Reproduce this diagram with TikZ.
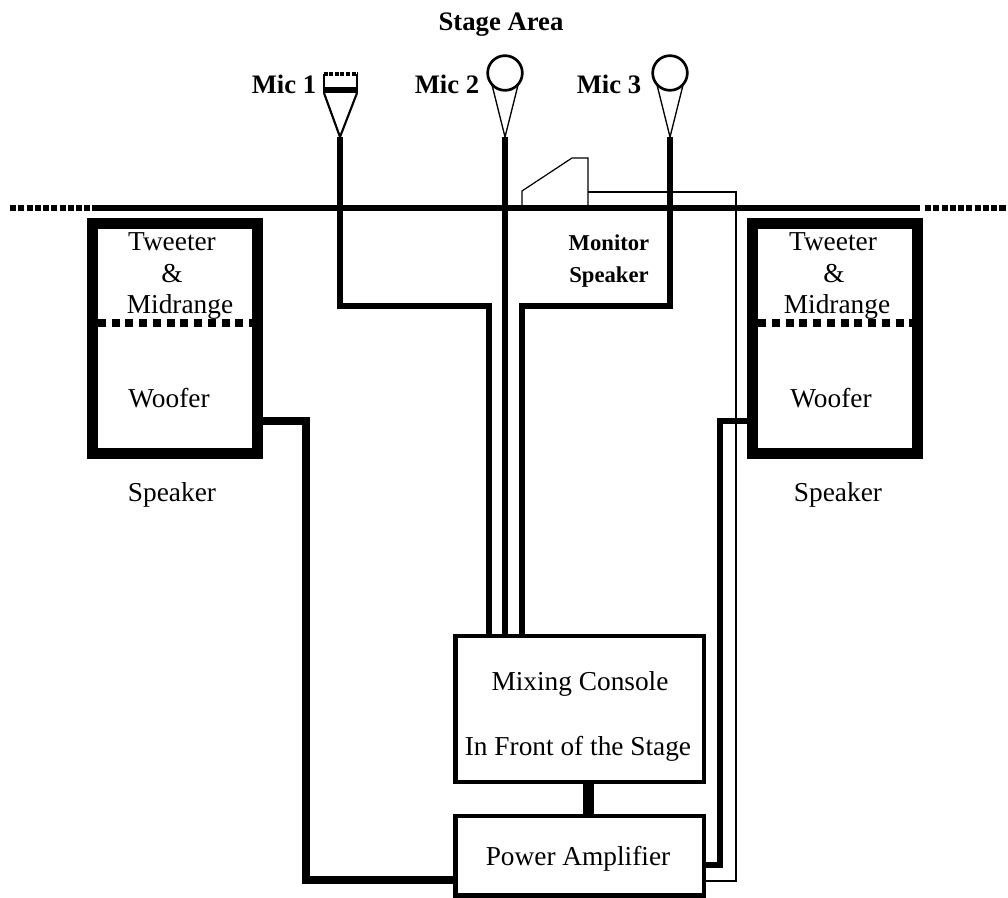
\documentclass[tikz,border=0pt]{standalone}
\usepackage{fontspec}
\setmainfont{Liberation Serif}
\usetikzlibrary{calc, positioning}
\tikzset{
  lab/.style={font=\fontsize{20.5}{24}\selectfont, anchor=base, inner sep=0pt},
  blab/.style={font=\fontsize{20}{24}\selectfont\bfseries, anchor=base, inner sep=0pt},
  slab/.style={font=\fontsize{17}{20}\selectfont\bfseries, anchor=base, inner sep=0pt},
  spkbox/.style={draw, line width=8.25pt, minimum width=123.75pt, minimum height=172.5pt},
  unitbox/.style={draw, line width=3.6pt, minimum width=186.4pt},
  wire/.style={line width=5.2pt},
  thinwire/.style={line width=0.9pt},
  split/.style={line width=6pt, dash pattern=on 6pt off 4.3pt},
  edge/.style={line width=3.8pt, dash pattern=on 4.6pt off 1.6pt}
}

\begin{document}
\begin{tikzpicture}[x=0.75pt, y=-0.75pt]
  \useasboundingbox (0,0) rectangle (1008,898);

  % Stage edge
  \coordinate (stL) at (92,208);
  \coordinate (stR) at (920,208);
  \coordinate (edL) at (10,208);
  \coordinate (edR) at (1008,208);
  \draw[line width=4.6pt] (stL) -- (stR);
  \draw[edge] (edL) -- (90,208);
  \draw[edge] (925,208) -- (edR);

  % Speakers
  \node[spkbox] (spkL) at (175,339) {};
  \node[spkbox] (spkR) at (835.25,339) {};
  \draw[split] (spkL.west |- 0,323) ++(11,0) -- (252,323);
  \draw[split] (spkR.west |- 0,323) ++(11,0) -- (912,323);

  % Console and amplifier
  \node[unitbox, minimum height=109.5pt] (console) at (579.75,709) {};
  \node[unitbox, minimum height=59.6pt] (amp) at (579.75,855.75) {};

  % Mics
  \coordinate (tip1) at (340,137);
  \coordinate (bL) at (324,93);
  \coordinate (bR) at (357,93);
  \draw[line width=1.6pt] (bL) -- (tip1) -- (bR);
  \draw[line width=4.5pt] (323,90) -- (358,90);
  \draw[line width=0.9pt] (324,90) -- (324,74);
  \draw[line width=0.9pt] (357,90) -- (357,74);
  \draw[line width=2.4pt, dash pattern=on 3pt off 1.2pt] (323.5,74) -- (358,74);
  \foreach \m/\x in {2/505, 3/670} {
    \node[circle, draw, line width=2pt, minimum size=26pt, inner sep=0pt] (head\m) at (\x,73) {};
    \coordinate (tip\m) at (\x,137);
    \draw[line width=1pt] (\x-13,85) -- (tip\m) -- (\x+13,85);
  }

  % Mic lines
  \coordinate (k1) at (340,306);
  \coordinate (c1) at (489,634);
  \coordinate (c2) at (505,634);
  \coordinate (k3) at (670,306);
  \coordinate (c3) at (522,638);
  \draw[line width=4.2pt] (tip1) -- (k1) -| (c1);
  \draw[line width=4.6pt] (tip2) -- (c2);
  \draw[wire] (tip3) -- (k3) -| (c3);

  % Monitor
  \coordinate (monA) at (522,208);
  \coordinate (monB) at (588,208);
  \draw[thinwire] (monA) -- (522,191) -- (572,158) -- (588,158) -- (monB);
  \coordinate (fbA) at (588,192);
  \coordinate (fbB) at (705,881);
  \draw[thinwire] (fbA) -| (736,881) -- (fbB);

  % Amplifier lines
  \coordinate (lk) at (588,0);
  \draw[line width=8.25pt] (lk |- console.south) -- (lk |- amp.north);
  \coordinate (wL) at (262,421);
  \coordinate (kL) at (306,880);
  \coordinate (aL) at (454,880);
  \draw[line width=5.4pt] (wL) -| (kL) -- (aL);
  \coordinate (wR) at (748,421);
  \coordinate (kR) at (720,865);
  \coordinate (aR) at (705,865);
  \draw[line width=4.8pt] (wR) -| (kR) -- (aR);

  % Labels
  \node[blab] (stage) at (501,31) {Stage Area};
  \foreach \n/\x in {1/284, 2/447, 3/609}
    \node[blab] (lmic\n) at (\x,94) {Mic \n};
  \node[slab] (mon1) at (609,251) {Monitor};
  \node[slab] (mon2) at (609,283) {Speaker};
  \foreach \t/\x/\y/\na in {Tweeter/172/251/a, \&/172/283/b, Midrange/180/314/c, Woofer/169/408/d, Speaker/172/502/e}
    \node[lab] (tL\na) at (\x,\y) {\t};
  \foreach \t/\x/\y/\na in {Tweeter/833/251/a, \&/834/283/b, Midrange/837/314/c, Woofer/831/408/d, Speaker/838/502/e}
    \node[lab] (tR\na) at (\x,\y) {\t};
  \node[lab] (t1) at (580,691) {Mixing Console};
  \node[lab] (t2) at (578,755) {In Front of the Stage};
  \node[lab] (t3) at (578,865) {Power Amplifier};
\end{tikzpicture}
\end{document}
